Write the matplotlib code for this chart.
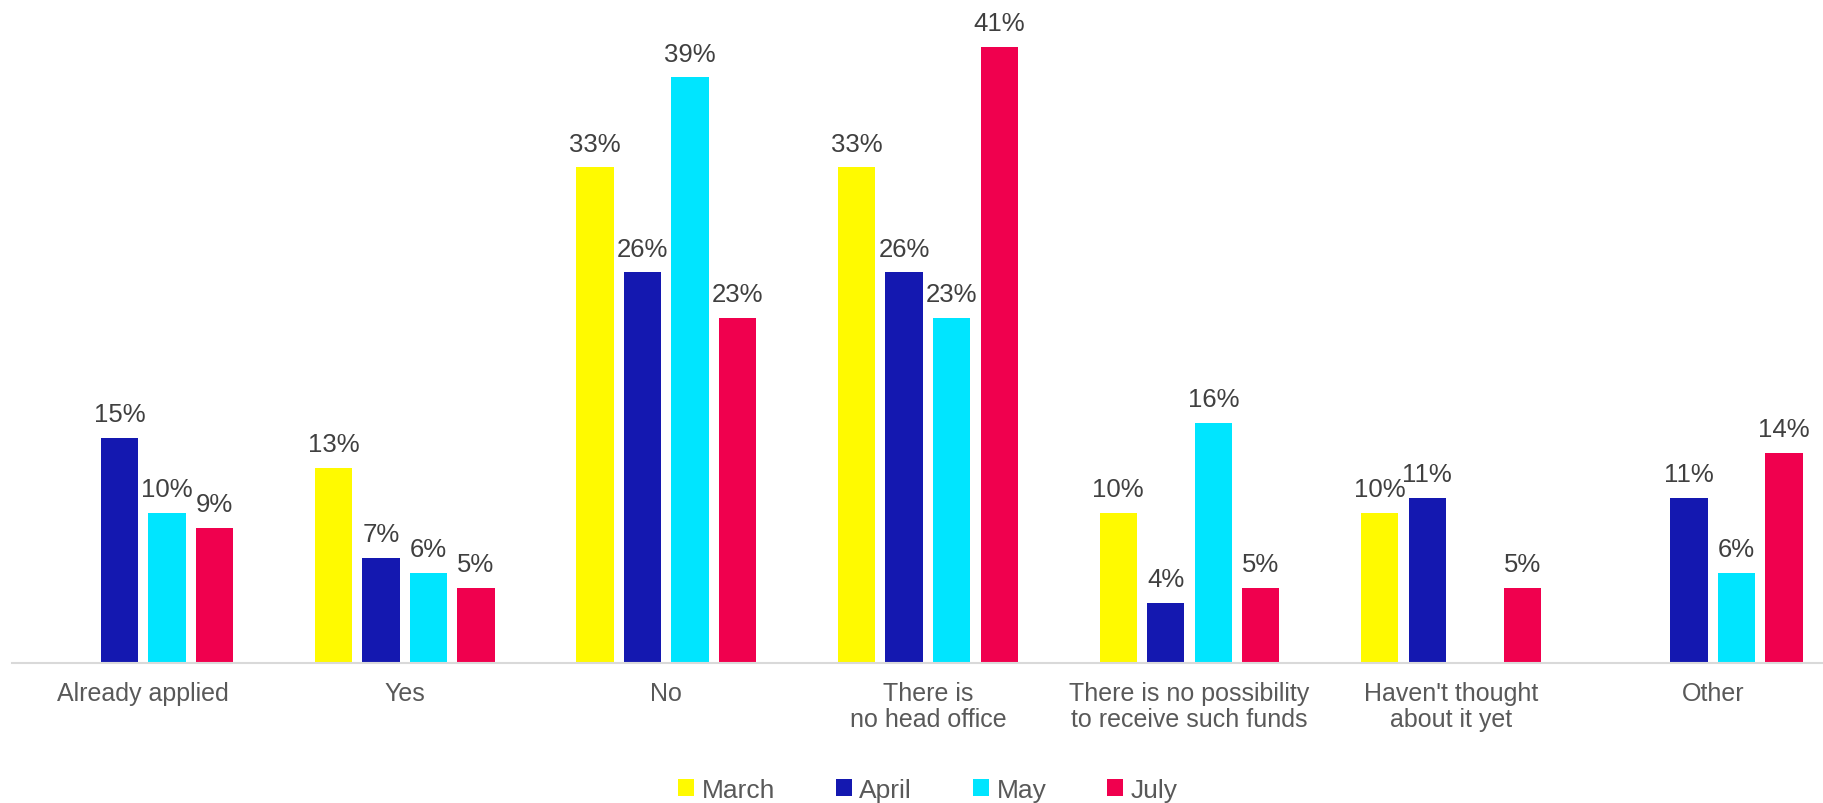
import matplotlib.pyplot as plt
import numpy as np

plt.rcParams["font.family"] = ["Liberation Sans", "DejaVu Sans"]

categories = ["Already applied", "Yes", "No", "There is\nno head office",
              "There is no possibility\nto receive such funds",
              "Haven't thought\nabout it yet", "Other"]
series = ["March", "April", "May", "July"]
march = [None, 13, 33, 33, 10, 10, None]
april = [15, 7, 26, 26, 4, 11, 11]
may = [10, 6, 39, 23, 16, None, 6]
july = [9, 5, 23, 41, 5, 5, 14]
colors = ["#FFFA00", "#1418B0", "#00E5FF", "#F0004E"]

values = [march, april, may, july]

fig = plt.figure(figsize=(18.24, 8.04), dpi=100)
ax = fig.add_axes([12.3 / 1824, 140 / 804, 1831.2 / 1824, 660.9 / 804])

x = np.arange(len(categories))
step = 0.1816
width = 0.1426
for i, (name, vals, c) in enumerate(zip(series, values, colors)):
    pos = x + (i - 1.5) * step
    h = [np.nan if v is None else v for v in vals]
    ax.bar(pos, h, width=width, color=c, label=name)
    for p, v in zip(pos, vals):
        if v is None:
            continue
        ax.annotate(f"{v}%", (p, v), xytext=(0, 12), textcoords="offset points",
                    ha="center", va="baseline", fontsize=18.5, color="#404040")

ax.set_xlim(-0.5, 6.5)
ax.set_ylim(0, 44)
ax.set_xticks(x)
ax.set_xticklabels(categories, fontsize=18, color="#595959", linespacing=1.1)
ax.tick_params(axis="x", length=0, pad=13)
ax.set_yticks([])
for s in ["top", "right", "left"]:
    ax.spines[s].set_visible(False)
ax.spines["bottom"].set_color("#D9D9D9")
ax.spines["bottom"].set_linewidth(1.5)

leg = ax.legend(loc="center", bbox_to_anchor=(0.5, -0.192), ncol=4, frameon=False,
                fontsize=19, handlelength=0.6, handleheight=0.6, handletextpad=0.3,
                columnspacing=2.3, borderaxespad=0)
for t in leg.get_texts():
    t.set_color("#595959")

fig.savefig("out.png", dpi=100)
